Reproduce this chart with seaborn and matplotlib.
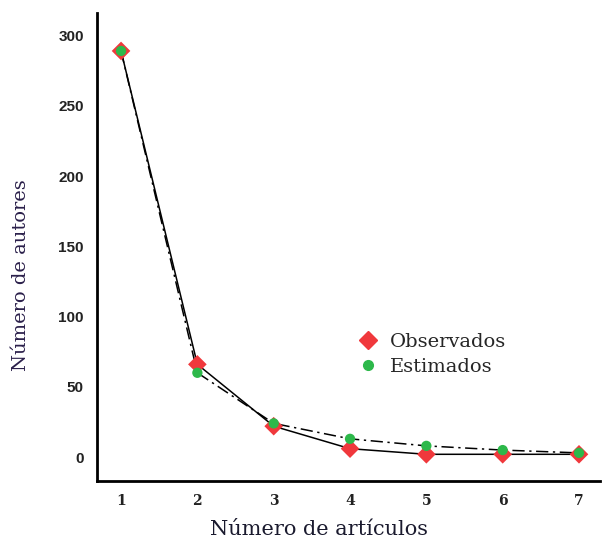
import matplotlib
matplotlib.use("Agg")
import matplotlib.pyplot as plt
import seaborn as sns
import pandas as pd
from matplotlib.lines import Line2D

articulos = [1, 2, 3, 4, 5, 6, 7]
observados = [289, 66, 22, 6, 2, 2, 2]
estimados = [289, 60, 24, 13, 8, 5, 3]
yticks = [0, 50, 100, 150, 200, 250, 300]

sns.set_style("white")
plt.rcParams['font.family'] = ['DejaVu Sans']

df = pd.DataFrame({"x": articulos, "obs": observados, "est": estimados})

fig = plt.figure(figsize=(6.02, 5.41), dpi=100)
ax = fig.add_axes([97/602, 1-481/541, (600-97)/602, (481-13)/541])

sns.lineplot(data=df, x="x", y="est", ax=ax, color="black", lw=1.1,
             linestyle=(0, (8, 3, 1.5, 3)), zorder=2)
sns.lineplot(data=df, x="x", y="obs", ax=ax, color="black", lw=1.1, zorder=2)
sns.scatterplot(data=df, x="x", y="obs", ax=ax, marker="D", s=90,
                color="#f0383c", edgecolor="none", zorder=3)
sns.scatterplot(data=df, x="x", y="est", ax=ax, marker="o", s=55,
                color="#2db84a", edgecolor="none", zorder=4)

ax.set_xlim(0.685, 7.275)
ax.set_ylim(-17, 316)
ax.set_xticks(articulos)
ax.set_yticks(yticks)
for s in ["top", "right"]:
    ax.spines[s].set_visible(False)
for s in ["left", "bottom"]:
    ax.spines[s].set_linewidth(2)
    ax.spines[s].set_color("black")
ax.tick_params(axis="both", direction="out", length=6, width=1.5, color="black",
               labelsize=11, labelcolor="#222222")
for lab in ax.get_xticklabels():
    lab.set_fontfamily("DejaVu Serif"); lab.set_fontweight("bold")
    lab.set_fontsize(10)
for lab in ax.get_yticklabels():
    lab.set_fontfamily("Liberation Sans"); lab.set_fontweight("bold")

ax.set_xlabel("Número de artículos", fontfamily="DejaVu Serif", fontsize=15,
              color="#1a1a2e")
ax.xaxis.set_label_coords(0.441, -0.083)
ax.set_ylabel("Número de autores", fontfamily="DejaVu Serif", fontsize=14,
              color="#2a1f4a")
ax.yaxis.set_label_coords(-0.133, 0.439)

handles = [
    Line2D([], [], marker="D", color="#f0383c", linestyle="none", markersize=9),
    Line2D([], [], marker="o", color="#2db84a", linestyle="none", markersize=7),
]
ax.legend(handles, ["Observados", "Estimados"], loc="center left",
          bbox_to_anchor=(0.475, 0.27), frameon=False,
          prop={"family": "DejaVu Serif", "size": 14}, handletextpad=0.4,
          labelspacing=0.35, handlelength=1.5)

fig.savefig("out.png", dpi=100)
